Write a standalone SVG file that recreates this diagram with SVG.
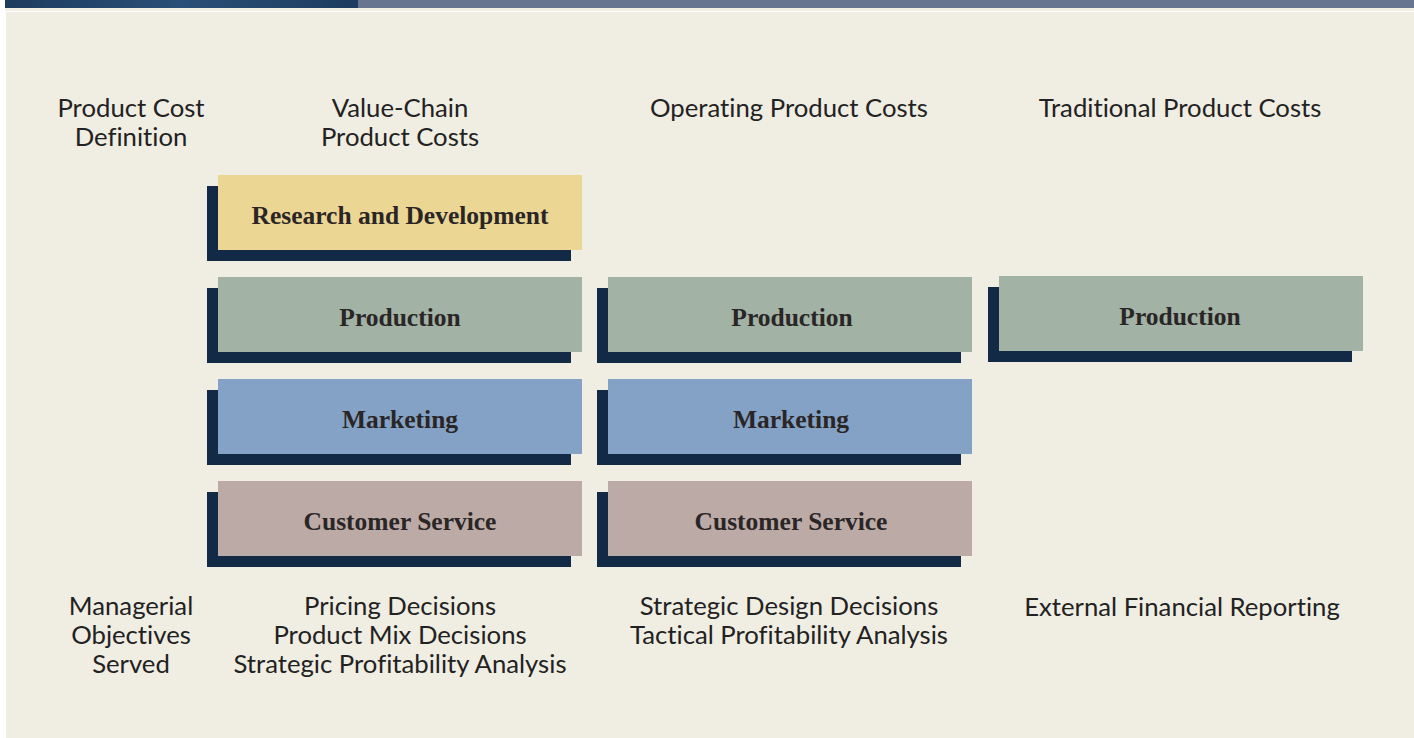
<svg xmlns="http://www.w3.org/2000/svg" width="1414" height="738" viewBox="0 0 1414 738">
<style>
.hd{font-family:"Lato","Open Sans",sans-serif;font-size:25.7px;fill:#222;text-anchor:middle;font-variant-ligatures:none}
.lb{font-family:"Liberation Serif","DejaVu Serif",serif;font-weight:bold;font-size:25.5px;fill:#2a2626;text-anchor:middle}
.sh{fill:#122A45}
.y{fill:#ECD693}.g{fill:#A2B2A5}.b{fill:#84A2C6}.m{fill:#BCAAA7}
</style>
<defs>
<linearGradient id="band" x1="0" y1="0" x2="1" y2="0">
<stop offset="0" stop-color="#1d3c5e"/><stop offset="0.5" stop-color="#2a4f78"/><stop offset="1" stop-color="#1d3c5e"/>
</linearGradient>
</defs>
<rect width="1414" height="738" fill="#ffffff"/>
<rect x="5" y="0" width="353" height="8" fill="url(#band)"/>
<rect x="358" y="0" width="1056" height="8" fill="#687590"/>
<rect x="5" y="8" width="1409" height="3" fill="#f3efe4"/>
<rect x="6" y="12" width="1408" height="726" fill="#F0EDE2"/>
<g id="headers">
<text class="hd" x="131" y="117">Product Cost</text>
<text class="hd" x="131" y="146">Definition</text>
<text class="hd" x="400" y="117">Value-Chain</text>
<text class="hd" x="400" y="146">Product Costs</text>
<text class="hd" x="789" y="117">Operating Product Costs</text>
<text class="hd" x="1180" y="117">Traditional Product Costs</text>
</g>
<g id="rd1"><rect class="sh" x="207" y="186" width="364" height="75"/><rect class="y" x="218" y="175" width="364" height="75"/><text class="lb" x="400" y="224">Research and Development</text></g>
<g id="prod1"><rect class="sh" x="207" y="288" width="364" height="75"/><rect class="g" x="218" y="277" width="364" height="75"/><text class="lb" x="400" y="326">Production</text></g>
<g id="mkt1"><rect class="sh" x="207" y="390" width="364" height="75"/><rect class="b" x="218" y="379" width="364" height="75"/><text class="lb" x="400" y="428">Marketing</text></g>
<g id="cs1"><rect class="sh" x="207" y="492" width="364" height="75"/><rect class="m" x="218" y="481" width="364" height="75"/><text class="lb" x="400" y="530">Customer Service</text></g>
<g id="prod2"><rect class="sh" x="597" y="288" width="364" height="75"/><rect class="g" x="608" y="277" width="364" height="75"/><text class="lb" x="792" y="326">Production</text></g>
<g id="mkt2"><rect class="sh" x="597" y="390" width="364" height="75"/><rect class="b" x="608" y="379" width="364" height="75"/><text class="lb" x="791" y="428">Marketing</text></g>
<g id="cs2"><rect class="sh" x="597" y="492" width="364" height="75"/><rect class="m" x="608" y="481" width="364" height="75"/><text class="lb" x="791" y="530">Customer Service</text></g>
<g id="prod3"><rect class="sh" x="988" y="287" width="364" height="75"/><rect class="g" x="999" y="276" width="364" height="75"/><text class="lb" x="1180" y="325">Production</text></g>
<g id="connectors"></g>
<g id="objectives">
<text class="hd" x="131" y="615">Managerial</text>
<text class="hd" x="131" y="644">Objectives</text>
<text class="hd" x="131" y="673">Served</text>
<text class="hd" x="400" y="615">Pricing Decisions</text>
<text class="hd" x="400" y="644">Product Mix Decisions</text>
<text class="hd" x="400" y="673">Strategic Profitability Analysis</text>
<text class="hd" x="789" y="615">Strategic Design Decisions</text>
<text class="hd" x="789" y="644">Tactical Profitability Analysis</text>
<text class="hd" x="1182" y="616">External Financial Reporting</text>
</g>
</svg>
